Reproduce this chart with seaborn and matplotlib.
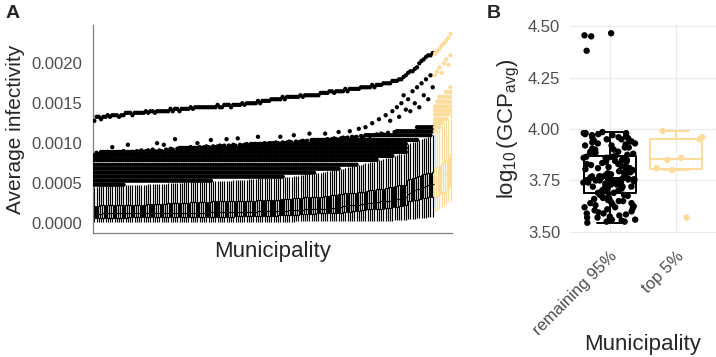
import numpy as np
import pandas as pd
import matplotlib
matplotlib.use('Agg')
import matplotlib.pyplot as plt
import seaborn as sns

# ---------------- Panel A: box stats per municipality (units of 1e-5) ----------------
# municipalities are ordered by median; the last n_top are the "top 5%"
n_top = 8

whisk_lo = [
    1, 1, 1, 1, 1, 1, 1, 1, 1, 1, 1, 1, 1, 1, 1, 1, 1, 1, 1, 1,
    1, 1, 1, 1, 1, 1, 1, 1, 1, 1, 1, 1, 1, 1, 1, 1, 1, 1, 1, 1,
    1, 1, 1, 1, 1, 1, 1, 1, 1, 1, 1, 1, 1, 1, 1, 1, 1, 1, 1, 1,
    1, 1, 1, 1, 1, 1, 1, 1, 1, 1, 1, 1, 1, 1, 1, 1, 1, 1, 1, 1,
    1, 1, 1, 1, 1, 1, 1, 1, 1, 1, 2, 2, 2, 2, 2, 2, 2, 2, 2, 2,
    2, 2, 2, 2, 2, 2, 2, 2, 2, 2, 2, 2, 2, 2, 2, 2, 3, 3, 3, 3,
    3, 3, 3, 3, 3, 3, 3, 3, 3, 3, 3, 3, 3, 3, 4, 4, 4, 4, 4, 4,
    5, 5, 5, 5, 6, 6, 6, 6, 6, 7, 7, 7,
    14, 16, 18, 20, 22, 24, 26, 28]

q_low = [
    6, 6, 6, 6, 6, 6, 6, 6, 6, 6, 6, 6, 6, 6, 6, 7, 7, 7, 7, 7,
    7, 7, 7, 7, 7, 7, 7, 7, 7, 7, 7, 7, 7, 7, 7, 7, 7, 7, 7, 7,
    8, 8, 8, 8, 8, 8, 8, 8, 8, 8, 8, 8, 8, 8, 8, 8, 8, 8, 8, 8,
    8, 8, 8, 9, 9, 9, 9, 9, 9, 9, 9, 9, 9, 9, 9, 9, 9, 9, 9, 9,
    9, 9, 10, 10, 10, 10, 10, 10, 10, 10, 10, 10, 11, 11, 11, 11, 11, 11, 11, 12,
    12, 12, 12, 12, 12, 13, 13, 13, 13, 13, 13, 14, 14, 14, 14, 15, 15, 15, 15, 16,
    16, 16, 17, 17, 17, 17, 18, 18, 18, 18, 19, 19, 19, 20, 20, 20, 21, 21, 21, 22,
    27, 28, 28, 29, 29, 30, 30, 31, 31, 32, 32, 33,
    33, 35, 36, 38, 39, 41, 43, 46]

median = [
    11, 11, 11, 11, 12, 12, 12, 12, 12, 12, 12, 12, 12, 12, 12, 12, 12, 12, 12, 12,
    12, 12, 12, 12, 12, 12, 12, 13, 13, 13, 13, 13, 13, 13, 13, 13, 13, 13, 13, 13,
    13, 13, 13, 13, 13, 13, 13, 13, 13, 13, 14, 14, 14, 14, 14, 14, 14, 14, 14, 14,
    14, 14, 14, 14, 14, 14, 14, 14, 14, 14, 14, 14, 14, 15, 15, 15, 15, 15, 15, 15,
    15, 15, 15, 15, 15, 15, 15, 16, 16, 16, 16, 16, 16, 16, 17, 17, 17, 17, 17, 18,
    18, 18, 18, 18, 19, 19, 19, 19, 20, 20, 20, 21, 21, 21, 22, 22, 22, 23, 23, 24,
    24, 24, 25, 25, 25, 26, 26, 26, 27, 27, 27, 28, 28, 29, 29, 30, 30, 31, 31, 32,
    36, 38, 40, 41, 42, 43, 44, 45, 46, 47, 48, 49,
    52, 54, 56, 58, 60, 62, 65, 68]

q_high = [
    21, 21, 21, 22, 22, 22, 22, 22, 22, 22, 22, 22, 22, 22, 23, 23, 23, 23, 23, 23,
    23, 23, 23, 23, 24, 24, 24, 24, 24, 24, 24, 24, 24, 25, 25, 25, 25, 25, 25, 25,
    25, 25, 25, 26, 26, 26, 26, 26, 26, 26, 26, 26, 26, 27, 27, 27, 27, 27, 27, 27,
    27, 27, 27, 28, 28, 28, 28, 28, 28, 28, 28, 28, 28, 29, 29, 29, 29, 29, 29, 29,
    29, 29, 29, 30, 30, 30, 30, 30, 30, 31, 31, 31, 31, 31, 32, 32, 32, 32, 32, 33,
    33, 33, 33, 34, 34, 34, 35, 35, 35, 36, 36, 36, 37, 37, 37, 38, 38, 38, 39, 39,
    39, 40, 40, 41, 41, 41, 42, 42, 43, 43, 44, 44, 45, 45, 46, 46, 47, 47, 48, 48,
    54, 55, 56, 57, 58, 59, 60, 61, 62, 63, 63, 64,
    68, 70, 72, 74, 76, 79, 82, 88]

whisk_hi = [
    45, 45, 46, 46, 46, 46, 46, 47, 47, 47, 47, 47, 47, 47, 48, 48, 48, 48, 48, 48,
    48, 48, 48, 48, 49, 49, 49, 49, 49, 49, 49, 49, 49, 50, 50, 50, 50, 50, 50, 50,
    51, 51, 51, 51, 51, 51, 52, 52, 52, 52, 52, 52, 52, 53, 53, 53, 53, 53, 53, 53,
    53, 53, 54, 54, 54, 54, 54, 54, 54, 55, 55, 55, 55, 56, 56, 56, 56, 56, 56, 56,
    56, 57, 57, 57, 57, 58, 58, 58, 58, 59, 59, 59, 60, 60, 61, 61, 61, 62, 62, 63,
    63, 63, 64, 64, 65, 65, 66, 66, 67, 67, 68, 68, 69, 70, 70, 71, 71, 72, 73, 73,
    74, 75, 75, 76, 77, 77, 78, 79, 79, 80, 81, 82, 82, 83, 84, 85, 86, 86, 87, 88,
    99, 100, 101, 102, 103, 104, 105, 106, 107, 108, 109, 110,
    112, 116, 118, 122, 125, 128, 132, 138]

# top of the dense cloud of outliers
band_top = [
    88, 88, 88, 89, 89, 89, 89, 90, 90, 90, 90, 90, 90, 90, 90, 90, 90, 90, 90, 90,
    91, 91, 91, 91, 91, 92, 92, 92, 92, 92, 92, 92, 93, 93, 93, 93, 93, 93, 94, 94,
    94, 94, 94, 95, 95, 95, 95, 95, 95, 95, 96, 96, 96, 96, 96, 96, 97, 97, 97, 97,
    97, 97, 97, 98, 98, 98, 98, 98, 98, 98, 99, 99, 99, 99, 99, 99, 100, 100, 100, 100,
    100, 100, 100, 101, 101, 101, 101, 101, 102, 102, 102, 102, 102, 103, 103, 103, 103, 104, 104, 104,
    104, 104, 105, 105, 105, 105, 106, 106, 106, 106, 107, 107, 107, 107, 108, 108, 108, 108, 109, 109,
    109, 110, 110, 110, 111, 111, 111, 112, 112, 112, 113, 113, 114, 114, 114, 115, 115, 116, 116, 117,
    118, 118, 119, 119, 120, 120, 121, 121, 122, 122, 123, 124,
    150, 155, 158, 160, 163, 165, 168, 170]

# isolated outlier between the dense cloud and the top outlier
out_mid = [
    85, 88, 86, 87, 88, 84, 89, 86, 95, 88, 87, 89, 86, 90, 88, 98, 87, 89, 88, 90,
    89, 91, 88, 90, 91, 89, 92, 90, 100, 91, 90, 98, 92, 91, 93, 92, 105, 93, 92, 94,
    93, 92, 94, 95, 93, 94, 100, 95, 94, 95, 96, 95, 104, 96, 95, 96, 97, 96, 97, 105,
    97, 96, 98, 97, 106, 98, 97, 98, 99, 97, 99, 98, 99, 108, 99, 99, 100, 99, 100, 100,
    100, 101, 100, 108, 101, 100, 101, 102, 101, 110, 102, 101, 102, 103, 102, 103, 112, 103, 104, 103,
    104, 103, 104, 112, 105, 104, 105, 106, 105, 114, 106, 107, 106, 107, 115, 108, 107, 108, 118, 109,
    108, 120, 110, 109, 125, 110, 111, 130, 112, 111, 135, 113, 128, 140, 114, 145, 133, 150, 160, 142,
    155, 140, 165, 150, 170, 145, 175, 160, 180, 155, 185, 170,
    185, 190, 195, 188, 200, 205, 198, 210]

# highest outlier of each municipality
out_top = [
    128, 133, 133, 130, 133, 133, 135, 133, 135, 135, 135, 133, 135, 135, 138, 138, 138, 135, 138, 138,
    138, 138, 138, 140, 138, 140, 140, 138, 140, 140, 140, 140, 140, 140, 143, 140, 143, 143, 140, 143,
    143, 143, 143, 145, 143, 145, 145, 145, 145, 145, 145, 145, 145, 145, 145, 148, 145, 145, 148, 148,
    148, 145, 148, 148, 148, 148, 150, 148, 150, 150, 150, 150, 150, 153, 150, 153, 153, 153, 153, 155,
    155, 155, 155, 155, 158, 155, 158, 158, 158, 158, 158, 158, 160, 158, 160, 160, 160, 160, 160, 160,
    160, 163, 163, 163, 163, 165, 165, 163, 165, 165, 165, 165, 168, 165, 168, 168, 168, 168, 168, 170,
    170, 170, 170, 170, 173, 170, 173, 173, 173, 175, 175, 175, 175, 178, 178, 178, 180, 180, 183, 185,
    188, 190, 190, 193, 195, 200, 203, 205, 208, 210, 210, 213,
    212, 215, 218, 222, 225, 228, 232, 237]

# discrete infectivity levels at which the outlier cloud sits
outlier_levels = [48, 53, 58, 63, 68, 73, 79, 84, 89, 94, 99, 104, 110,
                  115, 120, 125, 130, 136, 141, 146, 152, 158, 164, 170]

# ---------------- Panel B: log10(GCP_avg) per municipality ----------------
gcp_remaining = [
    3.545, 3.55, 3.55, 3.555, 3.56, 3.56, 3.565, 3.57, 3.57, 3.575,
    3.58, 3.585, 3.59, 3.59, 3.595, 3.60, 3.605, 3.61, 3.615, 3.62,
    3.62, 3.625, 3.63, 3.635, 3.64, 3.64, 3.645, 3.65, 3.65, 3.655,
    3.66, 3.66, 3.665, 3.67, 3.67, 3.675, 3.68, 3.68,
    3.69, 3.69, 3.695, 3.70, 3.70, 3.705, 3.71, 3.71, 3.715, 3.72,
    3.72, 3.72, 3.725, 3.73, 3.73, 3.73, 3.735, 3.74, 3.74, 3.74,
    3.74, 3.745, 3.745, 3.75, 3.75, 3.75, 3.75, 3.75, 3.755, 3.755,
    3.755, 3.76, 3.76, 3.76, 3.76, 3.76, 3.76, 3.76,
    3.765, 3.765, 3.77, 3.77, 3.77, 3.775, 3.775, 3.78, 3.78, 3.78,
    3.785, 3.79, 3.79, 3.795, 3.80, 3.80, 3.805, 3.81, 3.81, 3.815,
    3.82, 3.82, 3.825, 3.83, 3.83, 3.835, 3.84, 3.84, 3.845, 3.85,
    3.85, 3.855, 3.86, 3.86, 3.86, 3.865, 3.865, 3.87,
    3.875, 3.88, 3.88, 3.885, 3.89, 3.89, 3.90, 3.90, 3.905, 3.91,
    3.91, 3.92, 3.92, 3.925, 3.93, 3.93, 3.935, 3.94, 3.94, 3.945,
    3.95, 3.95, 3.955, 3.96, 3.96, 3.965, 3.97, 3.97, 3.975, 3.975,
    3.98, 3.98, 3.98, 3.985, 4.38, 4.45, 4.455, 4.465]
gcp_top = [3.57, 3.80, 3.81, 3.85, 3.86, 3.95, 3.96, 3.99]

group_names = ['remaining 95%', 'top 5%']
colors = {'remaining 95%': 'black', 'top 5%': '#FDDB9B'}

# ---------------- build tables ----------------
n = len(median)
munis = [f'm{i:03d}' for i in range(n)]
groups = [group_names[0]] * (n - n_top) + [group_names[1]] * n_top

box_rows = []
out_rows = []
for i in range(n):
    for v in (whisk_lo[i], q_low[i], median[i], q_high[i], whisk_hi[i]):
        box_rows.append((munis[i], groups[i], v * 1e-5))
    pts = [lv for lv in outlier_levels if whisk_hi[i] < lv <= band_top[i]]
    pts += [out_mid[i], out_top[i]]
    for v in pts:
        out_rows.append((munis[i], groups[i], v * 1e-5))
box_df = pd.DataFrame(box_rows, columns=['muni', 'group', 'infectivity'])
out_df = pd.DataFrame(out_rows, columns=['muni', 'group', 'infectivity'])

gcp_df = pd.DataFrame({
    'group': [group_names[0]] * len(gcp_remaining) + [group_names[1]] * len(gcp_top),
    'log_gcp': gcp_remaining + gcp_top,
})

# ---------------- style ----------------
sns.set_style('white')
plt.rcParams['font.family'] = ['Liberation Sans', 'DejaVu Sans']
plt.rcParams['mathtext.fontset'] = 'custom'
plt.rcParams['mathtext.rm'] = 'Liberation Sans'
plt.rcParams['mathtext.it'] = 'Liberation Sans:italic'
tick_color = '#4D4D4D'

fig = plt.figure(figsize=(7.16, 3.57), dpi=100)
axA = fig.add_axes([93 / 716, 124 / 357, 359 / 716, 208 / 357])
axB = fig.add_axes([570 / 716, 124 / 357, 146 / 716, 209 / 357])

# ---------------- Panel A ----------------
# white-filled boxes with coloured outlines (one call per group keeps positions)
for g in group_names:
    sns.boxplot(data=box_df[box_df['group'] == g], x='muni', y='infectivity',
                order=munis, color='white', linecolor=colors[g], saturation=1,
                whis=(0, 100), showfliers=False, width=0.75, linewidth=0.85,
                capprops={'linewidth': 0}, ax=axA)
sns.stripplot(data=out_df, x='muni', y='infectivity', hue='group', order=munis,
              hue_order=group_names, palette=colors, dodge=False, jitter=False,
              size=3.1, linewidth=0, legend=False, zorder=3, ax=axA)
axA.set_xlim(-0.6, n - 0.4)
axA.set_ylim(-0.000125, 0.00248)
axA.set_yticks([0, 0.0005, 0.001, 0.0015, 0.002])
axA.set_yticklabels(['0.0000', '0.0005', '0.0010', '0.0015', '0.0020'])
axA.set_xticks([])
axA.tick_params(axis='y', length=0, pad=8, labelsize=12, labelcolor=tick_color)
for side in ['top', 'right']:
    axA.spines[side].set_visible(False)
for side in ['left', 'bottom']:
    axA.spines[side].set_color('#808080')
    axA.spines[side].set_linewidth(0.9)
axA.set_xlabel('Municipality', fontsize=16, labelpad=6)
axA.set_ylabel('Average infectivity', fontsize=15)
axA.yaxis.set_label_coords(-0.19, 0.5)

# ---------------- Panel B ----------------
np.random.seed(7)
sns.boxplot(data=gcp_df, x='group', y='log_gcp', hue='group', order=group_names,
            hue_order=group_names, palette=colors, dodge=False, fill=False,
            showfliers=False, width=0.78, linewidth=1.4, legend=False, ax=axB)
sns.stripplot(data=gcp_df, x='group', y='log_gcp', hue='group', order=group_names,
              hue_order=group_names, palette=colors, dodge=False, jitter=0.4,
              size=4.6, linewidth=0, legend=False, zorder=3, ax=axB)
axB.set_xlim(-0.6, 1.6)
axB.set_ylim(3.495, 4.51)
axB.set_yticks([3.50, 3.75, 4.00, 4.25, 4.50])
axB.set_yticklabels(['3.50', '3.75', '4.00', '4.25', '4.50'])
axB.grid(True, color='#EBEBEB', linewidth=0.9)
axB.set_axisbelow(True)
for side in axB.spines:
    axB.spines[side].set_visible(False)
axB.tick_params(axis='both', length=0, labelsize=12, labelcolor=tick_color)
axB.tick_params(axis='y', pad=7)
axB.tick_params(axis='x', pad=11)
plt.setp(axB.get_xticklabels(), rotation=45, ha='right', rotation_mode='anchor')
axB.set_xlabel('Municipality', fontsize=16, va='center')
axB.xaxis.set_label_coords(0.5, -0.535)
axB.set_ylabel(r'$\log_{10}(\mathrm{GCP}_{\mathrm{avg}})$', fontsize=16)
axB.yaxis.set_label_coords(-0.33, 0.5)

fig.text(0.008, 0.985, 'A', fontsize=14, fontweight='bold', va='top', ha='left')
fig.text(0.680, 0.985, 'B', fontsize=14, fontweight='bold', va='top', ha='left')

fig.savefig('out.png', dpi=100)
